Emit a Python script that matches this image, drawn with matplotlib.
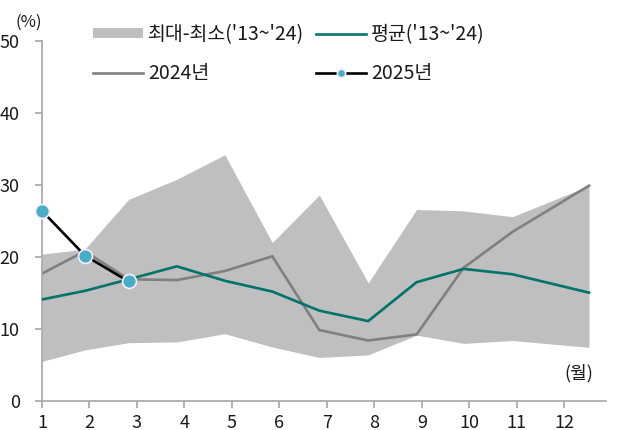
import matplotlib
matplotlib.use("Agg")
import matplotlib.pyplot as plt
from matplotlib.patches import Patch
import numpy as np

plt.rcParams['font.family'] = ['Noto Sans CJK KR', 'DejaVu Sans']

# ---- data ----
months = list(range(1, 13))
month_labels = [str(m) for m in months]
# category positions used by the source chart for each month's data point
month_pos = [1.0, 1.905, 2.825, 3.84, 4.85, 5.85, 6.84, 7.87, 8.89, 9.88, 10.91, 12.52]
band_max = [20.4, 21.1, 28.0, 30.8, 34.2, 22.0, 28.6, 16.4, 26.6, 26.4, 25.6, 29.9]
band_min = [5.5, 7.1, 8.1, 8.2, 9.35, 7.5, 6.05, 6.4, 9.15, 8.0, 8.4, 7.45]
avg_13_24 = [14.1, 15.3, 16.9, 18.7, 16.7, 15.2, 12.55, 11.1, 16.5, 18.35, 17.6, 15.05]
y2024 = [17.7, 20.8, 16.9, 16.8, 18.05, 20.1, 9.86, 8.4, 9.25, 18.5, 23.5, 29.9]
y2025 = [26.4, 20.2, 16.6]
yticks = [0, 10, 20, 30, 40, 50]

lbl_band = "최대-최소('13~'24)"
lbl_avg = "평균('13~'24)"
lbl_2024 = "2024년"
lbl_2025 = "2025년"

# ---- style ----
c_band = '#BFBFBF'
c_avg = '#00736A'
c_2024 = '#808080'
c_2025 = '#000000'
c_mark = '#4BACC6'
c_axis = '#A6A6A6'
fs = 13
fs_leg = 14

fig = plt.figure(figsize=(6.2, 4.3), dpi=100)
ax = fig.add_axes([42/620, 29/430, 564/620, 360/430])

ax.fill_between(month_pos, band_min, band_max, color=c_band, linewidth=0, zorder=1)
l24, = ax.plot(month_pos, y2024, color=c_2024, lw=1.9, zorder=2, solid_joinstyle='miter')
lav, = ax.plot(month_pos, avg_13_24, color=c_avg, lw=1.9, zorder=3, solid_joinstyle='miter')
l25, = ax.plot(month_pos[:len(y2025)], y2025, color=c_2025, lw=1.9, marker='o',
               markersize=10, markerfacecolor=c_mark, markeredgecolor='#F4EEFF',
               markeredgewidth=1.2, zorder=4, clip_on=False)

ax.set_xlim(1, 1 + 564/47.48)
ax.set_ylim(0, 50)
ax.set_xticks(months)
ax.set_xticklabels(month_labels)
ax.set_yticks(yticks)

for s in ['top', 'right']:
    ax.spines[s].set_visible(False)
for s in ['left', 'bottom']:
    ax.spines[s].set_color(c_axis)
    ax.spines[s].set_linewidth(1.2)
ax.tick_params(axis='y', direction='out', length=5, width=1.2, color=c_axis,
               labelsize=fs, pad=11, labelcolor='#1A1A1A')
ax.tick_params(axis='x', direction='out', length=5, width=1.2, color=c_axis,
               labelsize=fs, pad=4, labelcolor='#1A1A1A')

fig.text(29/620, 1 - 22/430, '(%)', fontsize=12, ha='center', va='center', color='#1A1A1A')
fig.text(593/620, 1 - 373/430, '(월)', fontsize=fs, ha='right', va='center', color='#1A1A1A')

handles = [Patch(facecolor=c_band, edgecolor='none'), l24, lav, l25]
labels = [lbl_band, lbl_2024, lbl_avg, lbl_2025]
leg = ax.legend(handles, labels, ncol=2, loc='upper left',
                bbox_to_anchor=(93/620, 1 - 24/430), bbox_transform=fig.transFigure,
                frameon=False, fontsize=fs_leg, handlelength=2.57, handleheight=0.42,
                handletextpad=0.26, columnspacing=0.6, labelspacing=0.93,
                borderpad=0, borderaxespad=0, markerscale=0.6)
for t in leg.get_texts():
    t.set_color('#1A1A1A')

fig.savefig('out.png', dpi=100)
